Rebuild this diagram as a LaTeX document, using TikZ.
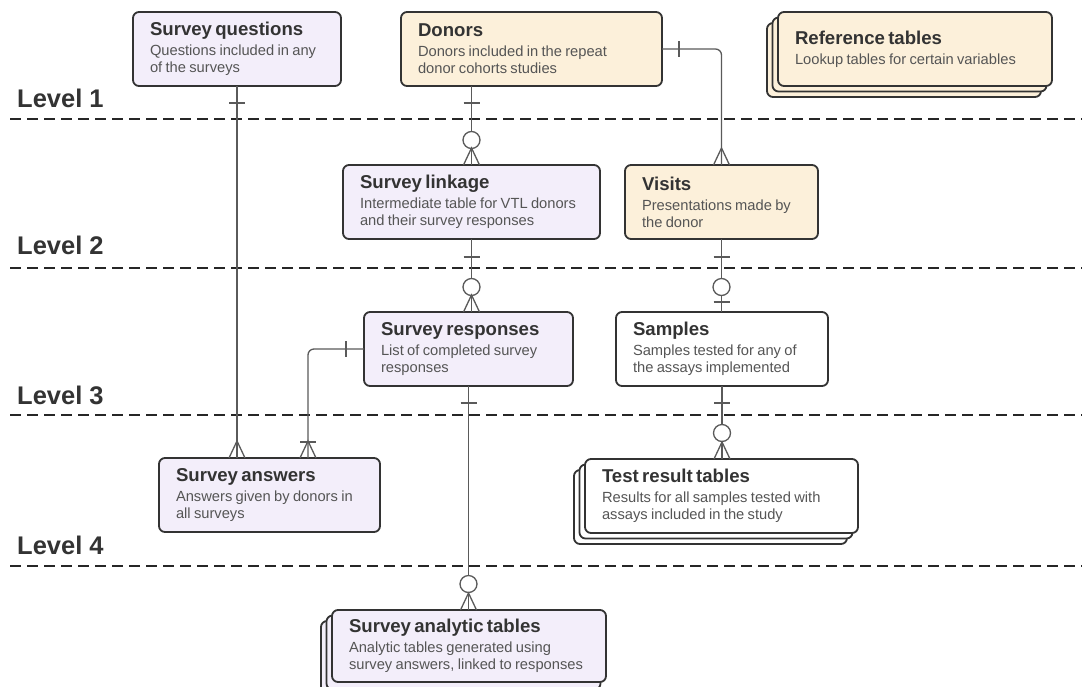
\documentclass[tikz,border=0pt]{standalone}
\usepackage{fontspec}
\setmainfont{Liberation Sans}
\usetikzlibrary{calc}
\definecolor{lav}{HTML}{F3EEFA}
\definecolor{cream}{HTML}{FCF0DA}
\definecolor{bord}{HTML}{333333}
\definecolor{ttlc}{HTML}{333333}
\definecolor{dscc}{HTML}{555555}
\definecolor{connc}{HTML}{5A5A5A}
\definecolor{dashc}{HTML}{262626}
\newcommand\ttl[1]{{\fontsize{18.6}{21}\selectfont\bfseries\color{ttlc}#1\par}\vspace{3pt}}
\newcommand\dsc[1]{{\fontsize{14.7}{17}\selectfont\color{dscc}#1\par}}
\newcommand\lin[1]{\mbox{#1}}
\tikzset{
 erbox/.style={draw=bord, line width=1.8pt, rounded corners=6pt, fill=#1, anchor=north west,
   minimum height=74pt, inner xsep=17pt, inner ysep=3pt, align=left, outer sep=0pt},
 conn/.style={draw=connc, line width=1.3pt},
 lvl/.style={font=\fontsize{25.5}{29}\selectfont\bfseries, text=ttlc, anchor=base west, inner sep=0pt},
 levelline/.style={draw=dashc, line width=2.6pt, dash pattern=on 11pt off 6pt},
 pics/hbar/.style={code={\draw[conn] (-8,0) -- (8,0);}},
 pics/vbar/.style={code={\draw[conn] (0,-8) -- (0,8);}},
 pics/crow/.style={code={\draw[conn] (-8,0) -- (0,-17) -- (8,0);}},
 pics/ocirc/.style={code={\draw[conn,fill=white] (0,0) circle[radius=8.5pt];}},
}
\begin{document}
\begin{tikzpicture}[x=1pt,y=-1pt]
\useasboundingbox (0,0) rectangle (1086,686);
\clip (0,0) rectangle (1086,686);
\fill[white] (0,0) rectangle (1086,686);

% level separators
\draw[levelline] (10,119) -- (1082,119);
\draw[levelline] (10,268) -- (1082,268);
\draw[levelline] (10,415) -- (1082,415);
\draw[levelline] (10,566) -- (1082,566);
\node[lvl] (lv1) at (17,107) {Level 1};
\node[lvl] (lv2) at (17,254) {Level 2};
\node[lvl] (lv3) at (17,404) {Level 3};
\node[lvl] (lv4) at (17,554) {Level 4};

% Level 1
\node[erbox=lav, text width=174pt] (sq) at (133,12)
 {\ttl{Survey questions}\dsc{\lin{Questions included in any}\\\lin{of the surveys}}};
\node[erbox=cream, text width=227pt] (donors) at (401,12)
 {\ttl{Donors}\dsc{\lin{Donors included in the repeat}\\\lin{donor cohorts studies}}};
\node[erbox=cream, minimum width=274pt] (ref2) at (767,23) {};
\node[erbox=cream, minimum width=274pt] (ref1) at (772.5,17.5) {};
\node[erbox=cream, text width=240pt] (ref) at (778,12)
 {\ttl{Reference tables}\dsc{\lin{Lookup tables for certain variables}}};

% Level 2
\node[erbox=lav, text width=223pt] (link) at (343,165)
 {\ttl{Survey linkage}\dsc{\lin{Intermediate table for VTL donors}\\\lin{and their survey responses}}};
\node[erbox=cream, text width=159pt] (visits) at (625,165)
 {\ttl{Visits}\dsc{\lin{Presentations made by}\\\lin{the donor}}};

% Level 3
\node[erbox=lav, text width=175pt] (resp) at (364,312)
 {\ttl{Survey responses}\dsc{\lin{List of completed survey}\\\lin{responses}}};
\node[erbox=white, text width=178pt] (samples) at (616,312)
 {\ttl{Samples}\dsc{\lin{Samples tested for any of}\\\lin{the assays implemented}}};

% Level 4
\node[erbox=lav, text width=187pt] (sa) at (159,458)
 {\ttl{Survey answers}\dsc{\lin{Answers given by donors in}\\\lin{all surveys}}};
\node[erbox=white, minimum width=273pt] (trt2) at (574,470) {};
\node[erbox=white, minimum width=273pt] (trt1) at (579.5,464.5) {};
\node[erbox=white, text width=239pt] (trt) at (585,459)
 {\ttl{Test result tables}\dsc{\lin{Results for all samples tested with}\\\lin{assays included in the study}}};

% Level 5
\node[erbox=lav, minimum width=274pt] (sat2) at (321,621) {};
\node[erbox=lav, minimum width=274pt] (sat1) at (326.5,615.5) {};
\node[erbox=lav, text width=240pt, minimum height=72pt] (sat) at (332,610)
 {\ttl{Survey analytic tables}\dsc{\lin{Analytic tables generated using}\\\lin{survey answers, linked to responses}}};

% connectors
\coordinate (saR) at ($(sa.north west)+(149,0)$);
\draw[conn] (sq.south) -- (sq.south |- sa.north);
\draw[conn] (link.north |- donors.south) -- (link.north);
\draw[conn, rounded corners=6pt] (donors.east) -| (visits.north);
\draw[conn] (link.south) -- (link.south |- resp.north);
\draw[conn] (visits.south) -- (visits.south |- samples.north);
\draw[conn, rounded corners=6pt] (resp.west) -| (saR);
\draw[conn] (resp.south) -- (resp.south |- sat.north);
\draw[conn] (samples.south) -- (samples.south |- trt.north);

% markers
\pic at ($(sq.south)+(0,17)$) {hbar};
\pic at (sq.south |- sa.north) {crow};

\pic at ($(link.north |- donors.south)+(0,17)$) {hbar};
\pic at ($(link.north)+(0,-25)$) {ocirc};
\pic at (link.north) {crow};

\pic at ($(donors.east)+(17,0)$) {vbar};
\pic at (visits.north) {crow};

\pic at ($(link.south)+(0,18)$) {hbar};
\pic at ($(link.south |- resp.north)+(0,-25)$) {ocirc};
\pic at (link.south |- resp.north) {crow};

\pic at ($(visits.south)+(0,18)$) {hbar};
\pic at ($(visits.south |- samples.north)+(0,-25)$) {ocirc};
\pic at ($(visits.south |- samples.north)+(0,-10)$) {hbar};

\pic at ($(resp.west)+(-18,0)$) {vbar};
\pic at (saR) {crow};
\pic at ($(saR)+(0,-16)$) {hbar};

\pic at ($(resp.south)+(0,17)$) {hbar};
\pic at ($(resp.south |- sat.north)+(0,-26)$) {ocirc};
\pic at (resp.south |- sat.north) {crow};

\pic at ($(samples.south)+(0,17)$) {hbar};
\pic at ($(samples.south |- trt.north)+(0,-26)$) {ocirc};
\pic at (samples.south |- trt.north) {crow};
\end{tikzpicture}
\end{document}
